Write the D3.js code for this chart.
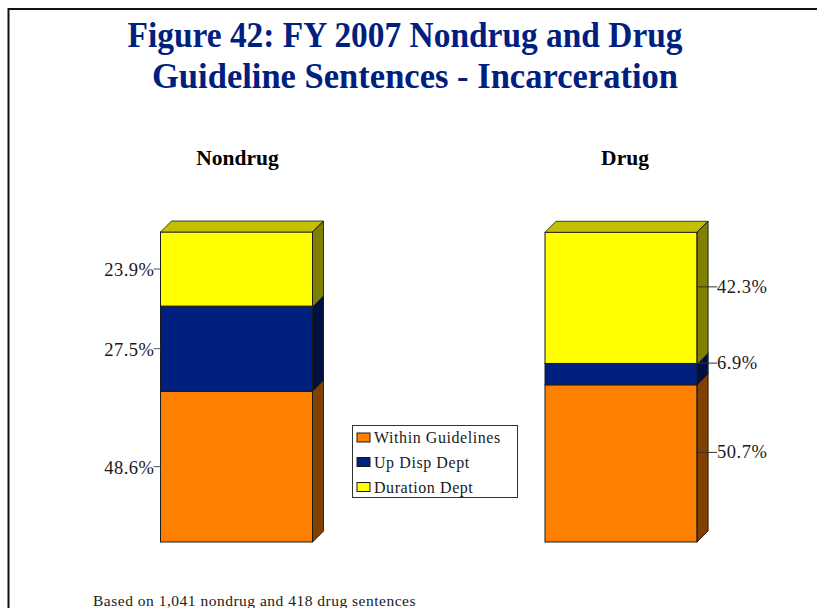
<!DOCTYPE html>
<html><head><meta charset="utf-8">
<script src="https://cdn.jsdelivr.net/npm/d3@7"></script>
<style>html,body{margin:0;padding:0;background:#fff}svg{display:block}text{font-family:"Liberation Serif",serif}</style>
</head><body><svg id="c" width="817" height="608"></svg>
<script>
const titleLines = ["Figure 42: FY 2007 Nondrug and Drug", "Guideline Sentences - Incarceration"];
const panels = ["Nondrug", "Drug"];
const seriesNames = ["Within Guidelines", "Up Disp Dept", "Duration Dept"];
const withinValues = [48.6, 50.7];
const upDispValues = [27.5, 6.9];
const durationValues = [23.9, 42.3];
const footnote = "Based on 1,041 nondrug and 418 drug sentences";
const faceColors = ["#ff8000", "#002080", "#ffff00"];
const sideColors = ["#804000", "#001040", "#808000"];
const topColor = "#c4c000";

const svg = d3.select("#c");
const x = d3.scalePoint().domain(panels).range([160.5, 545]);
const barW = 152, depth = 11;
const y = d3.scaleLinear().domain([0, 100]).range([542, 232]);
const series = [withinValues, upDispValues, durationValues];
const ink = "#1a1a1a";

// frame
svg.append("path").attr("d", "M8.5,608V9H817").attr("fill", "none").attr("stroke", "#111").attr("stroke-width", 2);

// title
svg.selectAll("text.title").data(titleLines).join("text").attr("class", "title")
  .attr("x", (d, i) => i ? 415 : 405).attr("y", (d, i) => i ? 87.5 : 46.5)
  .attr("text-anchor", "middle").attr("font-weight", "bold").attr("font-size", 36).attr("fill", "#002080")
  .attr("textLength", (d, i) => i ? 526 : 555).attr("lengthAdjust", "spacingAndGlyphs")
  .text(d => d);

// panel names
svg.selectAll("text.panel").data(panels).join("text").attr("class", "panel")
  .attr("x", (d, i) => i ? 625 : 237.5).attr("y", 165)
  .attr("text-anchor", "middle").attr("font-weight", "bold").attr("font-size", 21.5).attr("fill", "#000")
  .text(d => d);

panels.forEach((p, pi) => {
  const g = svg.append("g");
  const x0 = x(p), x1 = x0 + barW;
  let cum = 0;
  series.forEach((vals, si) => {
    const v = vals[pi], yb = y(cum), yt = y(cum + v);
    // side face
    g.append("path").attr("d", `M${x1},${yb}L${x1 + depth},${yb - depth}L${x1 + depth},${yt - depth}L${x1},${yt}Z`)
      .attr("fill", sideColors[si]).attr("stroke", sideColors[si]).attr("stroke-width", 0.8);
    // front face
    g.append("rect").attr("x", x0).attr("y", yt).attr("width", barW).attr("height", yb - yt)
      .attr("fill", faceColors[si]).attr("stroke", ink).attr("stroke-width", 1);
    // label and leader
    const ym = (yb + yt) / 2;
    const label = v.toFixed(1) + "%";
    if (pi === 0) {
      g.append("line").attr("x1", x0 - 7).attr("x2", x0).attr("y1", ym).attr("y2", ym).attr("stroke", "#555");
      g.append("text").attr("x", x0 - 6).attr("y", ym + 7).attr("text-anchor", "end")
        .attr("font-size", 18.5).attr("letter-spacing", 0.5).attr("fill", ink).text(label);
    } else {
      g.append("line").attr("x1", x1 + 1).attr("x2", x1 + 20).attr("y1", ym - 11).attr("y2", ym - 11).attr("stroke", "#333");
      g.append("text").attr("x", x1 + 20).attr("y", ym - 5).attr("font-size", 18.5).attr("letter-spacing", 0.5).attr("fill", ink).text(label);
    }
    cum += v;
    if (si === 2) {
      g.append("path").attr("d", `M${x0},${yt}L${x0 + depth},${yt - depth}L${x1 + depth},${yt - depth}L${x1},${yt}Z`)
        .attr("fill", topColor).attr("stroke", ink).attr("stroke-width", 0.8);
    }
  });
  // outline of the side face
  g.append("path").attr("d", `M${x1},${y(0)}L${x1 + depth},${y(0) - depth}V${y(100) - depth}L${x1},${y(100)}V${y(0)}`)
    .attr("fill", "none").attr("stroke", ink).attr("stroke-width", 0.8);
});

// legend
const lg = svg.append("g");
lg.append("rect").attr("x", 352.5).attr("y", 425.5).attr("width", 165).attr("height", 72)
  .attr("fill", "#fff").attr("stroke", "#333").attr("stroke-width", 1);
const rowY = [437.5, 462, 487];
seriesNames.forEach((n, i) => {
  lg.append("rect").attr("x", 357).attr("y", rowY[i] - 4.5).attr("width", 13).attr("height", 9)
    .attr("fill", faceColors[i]).attr("stroke", ink);
  lg.append("text").attr("x", 374).attr("y", rowY[i] + 5.5).attr("font-size", 16).attr("letter-spacing", 0.57)
    .attr("fill", ink).text(n);
});

// footnote
svg.append("text").attr("x", 93).attr("y", 605.5).attr("font-size", 15.5).attr("letter-spacing", 0.5).attr("fill", ink).text(footnote);
</script></body></html>
